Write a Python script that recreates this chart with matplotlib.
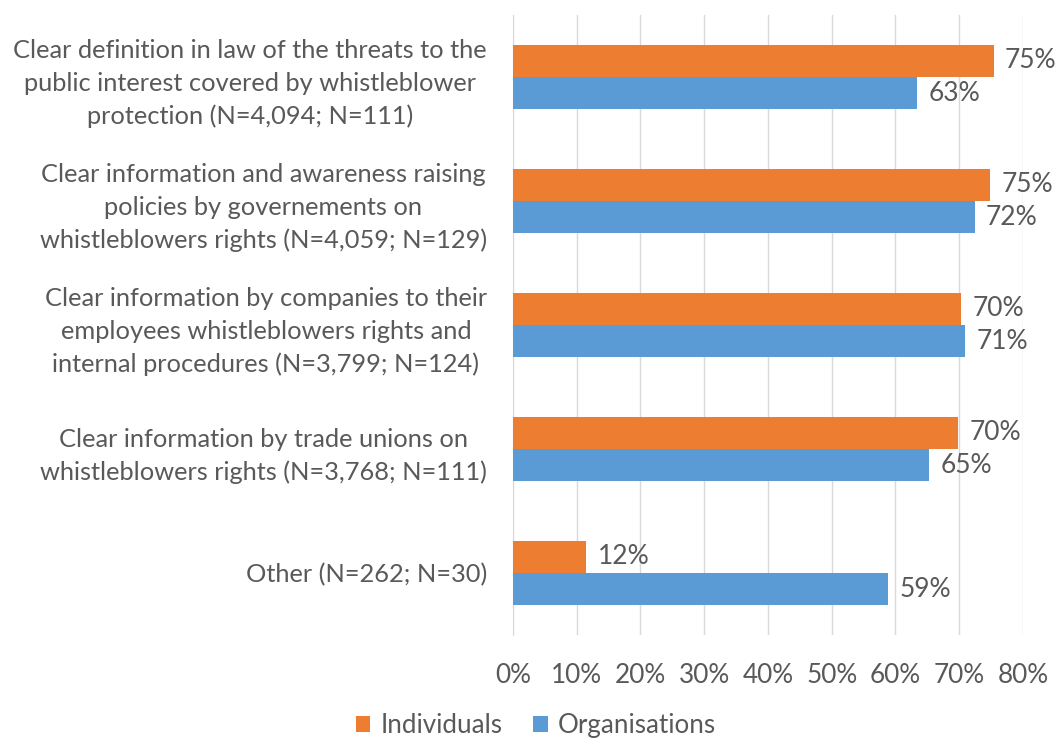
import matplotlib
matplotlib.use("Agg")
import matplotlib.pyplot as plt
from matplotlib.ticker import PercentFormatter
import numpy as np

categories = [
    "Clear definition in law of the threats to the\npublic interest covered by whistleblower\nprotection (N=4,094; N=111)",
    "Clear information and awareness raising\npolicies by governements on\nwhistleblowers rights (N=4,059; N=129)",
    "Clear information by companies to their\nemployees whistleblowers rights and\ninternal procedures (N=3,799; N=124)",
    "Clear information by trade unions on\nwhistleblowers rights (N=3,768; N=111)",
    "Other (N=262; N=30)",
]
individuals = [75.4, 74.8, 70.3, 69.8, 11.5]
organisations = [63.4, 72.4, 70.9, 65.3, 58.8]
series_names = ["Individuals", "Organisations"]
x_ticks = [0, 10, 20, 30, 40, 50, 60, 70, 80]

ORANGE = "#ED7D31"
BLUE = "#5B9BD5"
TEXT = "#595959"
GRID = "#D9D9D9"

plt.rcParams["font.family"] = ["Lato", "DejaVu Sans"]

fig = plt.figure(figsize=(10.57, 7.38), dpi=100)
ax = fig.add_axes([0.4853, 0.1396, 0.4825, 0.8401])

y = np.arange(len(categories))
h = 0.26
b1 = ax.barh(y - h / 2, individuals, height=h, color=ORANGE, label=series_names[0], zorder=3)
b2 = ax.barh(y + h / 2, organisations, height=h, color=BLUE, label=series_names[1], zorder=3)

for bars, vals in ((b1, individuals), (b2, organisations)):
    for rect, v in zip(bars, vals):
        ax.text(v + 1.8, rect.get_y() + rect.get_height() / 2, f"{round(v):d}%",
                va="center", ha="left", fontsize=19, color=TEXT)

ax.set_xlim(0, 80)
ax.set_ylim(len(categories) - 0.5, -0.5)
ax.set_xticks(x_ticks)
ax.xaxis.set_major_formatter(PercentFormatter(decimals=0))
ax.set_yticks(y)
ax.set_yticklabels(categories, fontsize=18.3, color=TEXT, ha="right", multialignment="center",
                   linespacing=1.5)
ax.tick_params(axis="y", length=0, pad=18.7)
ax.tick_params(axis="x", length=0, pad=20, labelsize=18.8, labelcolor=TEXT)

ax.grid(axis="x", color=GRID, linewidth=1, zorder=0)
for s in ("top", "right", "bottom"):
    ax.spines[s].set_visible(False)
ax.spines["left"].set_color(GRID)
ax.spines["left"].set_zorder(1)

fig.legend(handles=[b1, b2], labels=series_names, loc="lower center",
           bbox_to_anchor=(0.507, -0.032), ncol=2, frameon=False, fontsize=18.7,
           labelcolor=TEXT, handlelength=0.55, handleheight=0.55, handletextpad=0.4,
           columnspacing=1.2)

fig.savefig("out.png", dpi=100)
